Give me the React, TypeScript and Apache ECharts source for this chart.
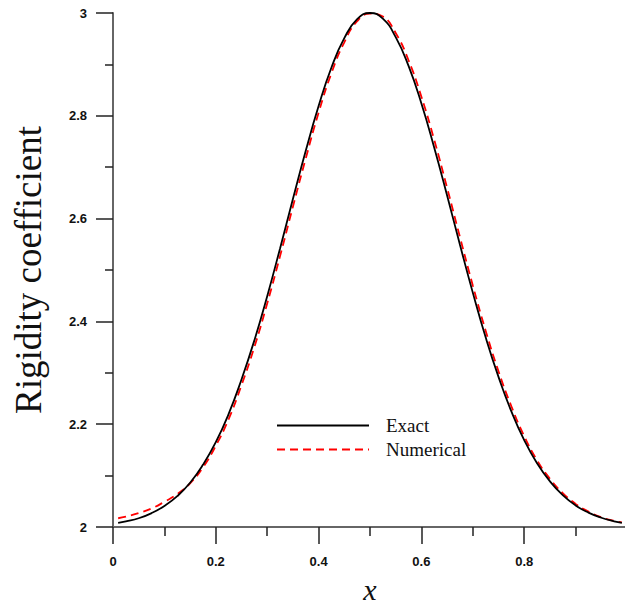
import React, { useEffect, useRef } from "react";
import * as echarts from "echarts";

const xValues = [
  0.01, 0.025, 0.05, 0.075, 0.1, 0.125, 0.15, 0.175, 0.2, 0.225, 0.25, 0.275,
  0.3, 0.325, 0.35, 0.375, 0.4, 0.425, 0.45, 0.475, 0.5, 0.525, 0.55, 0.575,
  0.6, 0.625, 0.65, 0.675, 0.7, 0.725, 0.75, 0.775, 0.8, 0.825, 0.85, 0.875,
  0.9, 0.925, 0.95, 0.975, 0.99,
];

const exactValues = [
  2.008, 2.011, 2.017, 2.027, 2.041, 2.06, 2.086, 2.121, 2.165, 2.22, 2.287,
  2.363, 2.449, 2.542, 2.638, 2.732, 2.819, 2.894, 2.951, 2.988, 3.0, 2.989,
  2.953, 2.897, 2.824, 2.738, 2.645, 2.549, 2.456, 2.369, 2.292, 2.225, 2.169,
  2.124, 2.089, 2.062, 2.042, 2.028, 2.018, 2.011, 2.008,
];

const numericalValues = [
  2.017, 2.02, 2.027, 2.036, 2.049, 2.064, 2.085, 2.116, 2.158, 2.21, 2.276,
  2.35, 2.435, 2.527, 2.623, 2.717, 2.806, 2.883, 2.943, 2.984, 2.999, 2.993,
  2.961, 2.908, 2.837, 2.753, 2.66, 2.564, 2.47, 2.382, 2.303, 2.235, 2.177,
  2.13, 2.094, 2.066, 2.045, 2.03, 2.019, 2.012, 2.009,
];

const seriesNames = ["Exact", "Numerical"];

export default function App() {
  const ref = useRef<HTMLDivElement>(null);

  useEffect(() => {
    if (!ref.current) return;
    const chart = echarts.init(ref.current, undefined, { renderer: "svg" });
    const exactData = xValues.map((x, i) => [x, exactValues[i]]);
    const numData = xValues.map((x, i) => [x, numericalValues[i]]);
    const tickLabel = {
      fontFamily: "Liberation Sans, Arial, sans-serif",
      fontWeight: "bold" as const,
      fontSize: 13,
      color: "#111",
    };
    chart.setOption({
      animation: false,
      backgroundColor: "#fff",
      grid: { left: 113, top: 13, right: -2, bottom: 82, outerBoundsMode: "none" },
      legend: {
        orient: "vertical",
        left: 276,
        top: 416,
        padding: 0,
        itemWidth: 92,
        itemHeight: 14,
        itemGap: 5,
        data: seriesNames,
        itemStyle: { opacity: 0 },
        textStyle: {
          fontFamily: "Liberation Serif, Times New Roman, serif",
          fontSize: 19,
          color: "#111",
          padding: [0, 0, 0, 12],
        },
      },
      xAxis: {
        type: "value",
        min: 0,
        max: 1,
        interval: 0.2,
        name: "x",
        nameLocation: "middle",
        nameGap: 47,
        nameTextStyle: {
          fontFamily: "Liberation Serif, Times New Roman, serif",
          fontStyle: "italic",
          fontSize: 30,
          color: "#111",
        },
        axisLine: { onZero: false, lineStyle: { color: "#666", width: 2 } },
        axisTick: { length: 17, lineStyle: { color: "#222", width: 1.5 } },
        minorTick: { show: true, splitNumber: 2, length: 9, lineStyle: { color: "#222", width: 1.5 } },
        axisLabel: { ...tickLabel, margin: 28, showMaxLabel: false },
        splitLine: { show: false },
        minorSplitLine: { show: false },
      },
      yAxis: {
        type: "value",
        min: 2,
        max: 3,
        interval: 0.2,
        name: "Rigidity coefficient",
        nameLocation: "middle",
        nameGap: 66,
        nameTextStyle: {
          fontFamily: "Liberation Serif, Times New Roman, serif",
          fontSize: 37,
          color: "#111",
        },
        axisLine: { show: true, onZero: false, lineStyle: { color: "#666", width: 2 } },
        axisTick: { show: true, length: 17, lineStyle: { color: "#222", width: 1.5 } },
        minorTick: { show: true, splitNumber: 2, length: 8, lineStyle: { color: "#222", width: 1.5 } },
        axisLabel: { ...tickLabel, margin: 26 },
        splitLine: { show: false },
        minorSplitLine: { show: false },
      },
      series: [
        {
          name: seriesNames[0],
          type: "line",
          data: exactData,
          smooth: true,
          symbol: "none",
          lineStyle: { color: "#000", width: 1.8 },
          itemStyle: { color: "#000" },
          z: 3,
        },
        {
          name: seriesNames[1],
          type: "line",
          data: numData,
          smooth: true,
          symbol: "none",
          lineStyle: { color: "#ff0000", width: 1.8, type: [8, 5] },
          itemStyle: { color: "#ff0000" },
          z: 2,
        },
      ],
    });
    return () => chart.dispose();
  }, []);

  return (
    <div
      ref={ref}
      style={{ position: "fixed", left: 0, top: 0, width: 625, height: 609, background: "#fff" }}
    />
  );
}
